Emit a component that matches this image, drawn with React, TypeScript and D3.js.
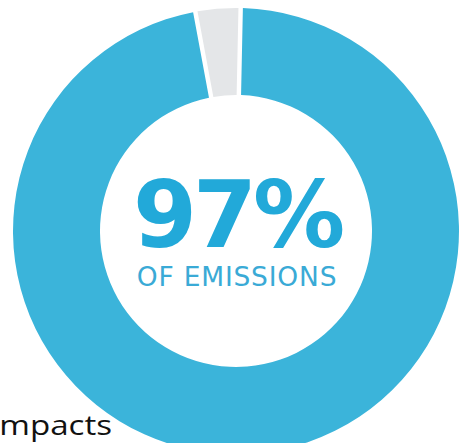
import { useEffect, useRef } from "react";
import * as d3 from "d3";

const categories = ["Emissions", "Other"];
const shares = [97, 3];
const headline = "97%";
const subline = "OF EMISSIONS";
const sideText = "Impacts";

const colours = ["#3bb4da", "#e4e6e8"];

export default function App() {
  const chartRef = useRef<SVGSVGElement | null>(null);

  useEffect(() => {
    if (!chartRef.current) return;
    document.body.style.margin = "0";

    const svg = d3.select(chartRef.current);
    svg.selectAll("*").remove();

    const width = 460;
    const height = 443;
    const cx = 236;
    const cy = 231;
    const outer = 223;
    const inner = 136;

    svg.attr("width", width).attr("height", height);

    svg.append("rect").attr("width", width).attr("height", height).attr("fill", "#ffffff");

    const colour = d3.scaleOrdinal<string, string>().domain(categories).range(colours);

    // start a little past 12 o'clock so the small slice sits just left of the top
    const start = (1.2 * Math.PI) / 180;
    const pie = d3
      .pie<number>()
      .sort(null)
      .value((d) => d)
      .startAngle(start)
      .endAngle(start + 2 * Math.PI)
      .padAngle(0.017);

    const arc = d3.arc<d3.PieArcDatum<number>>().innerRadius(inner).outerRadius(outer);

    const g = svg.append("g").attr("transform", `translate(${cx},${cy})`);

    g.selectAll("path")
      .data(pie(shares))
      .enter()
      .append("path")
      .attr("d", arc)
      .attr("fill", (_, i) => colour(categories[i]));

    g.append("text")
      .text(headline)
      .attr("x", 1)
      .attr("y", 16)
      .attr("text-anchor", "middle")
      .attr("fill", "#22a9d9")
      .style("font-family", "'DejaVu Sans', sans-serif")
      .style("font-weight", "bold")
      .style("font-size", "92px")
      .style("letter-spacing", "-4px");

    g.append("text")
      .text(subline)
      .attr("x", 1)
      .attr("y", 55)
      .attr("text-anchor", "middle")
      .attr("fill", "#3aaad6")
      .style("font-family", "'DejaVu Sans', sans-serif")
      .style("font-size", "26.5px")
      .style("letter-spacing", "0.8px");

    svg.append("text")
      .text(sideText)
      .attr("x", -10)
      .attr("y", 435)
      .attr("textLength", 122)
      .attr("lengthAdjust", "spacingAndGlyphs")
      .attr("fill", "#111111")
      .style("font-family", "'Open Sans', sans-serif")
      .style("font-size", "28px");
  }, []);

  return (
    <div style={{ width: 460, height: 443 }}>
      <svg ref={chartRef} style={{ display: "block" }}></svg>
    </div>
  );
}
